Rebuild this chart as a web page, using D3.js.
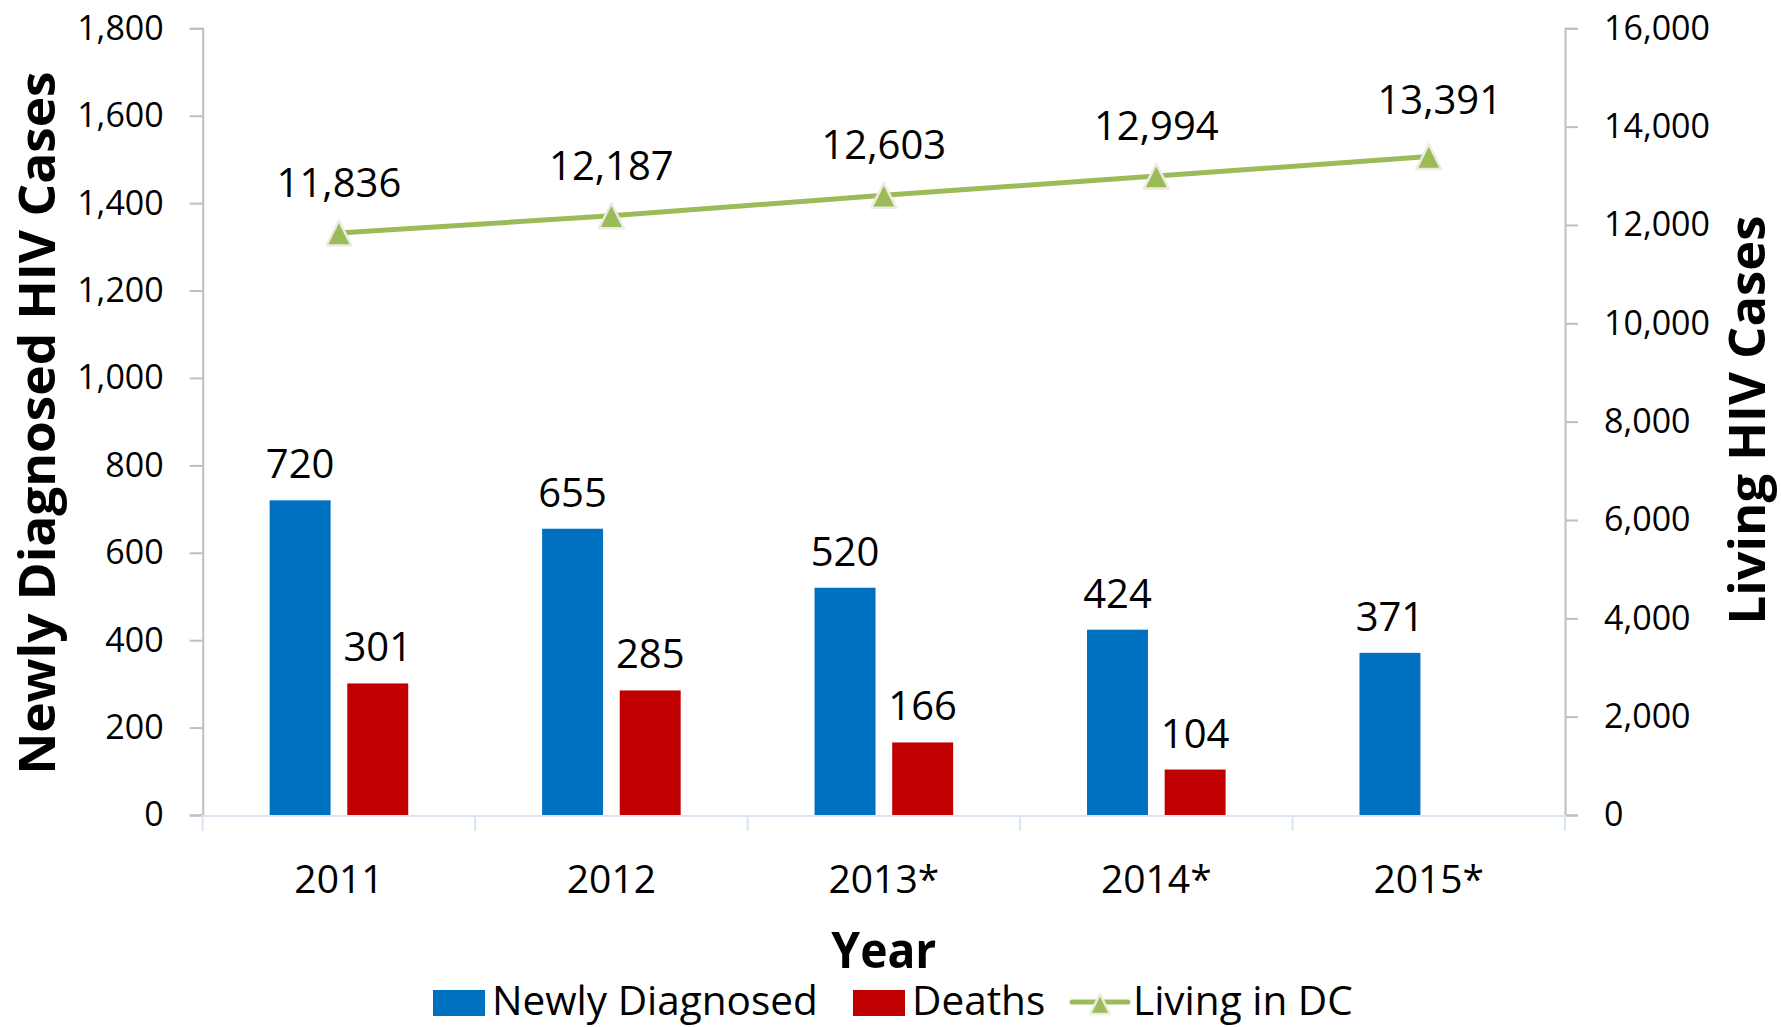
<!DOCTYPE html>
<html>
<head>
<meta charset="utf-8">
<script src="https://cdn.jsdelivr.net/npm/d3@7"></script>
<style>
  body { margin: 0; background: #fff; }
  svg { display: block; font-family: 'Open Sans', sans-serif; }
</style>
</head>
<body>
<div id="chart"></div>
<script>
// values
const years = ['2011', '2012', '2013*', '2014*', '2015*'];
const newlyDiagnosed = [720, 655, 520, 424, 371];
const deaths = [301, 285, 166, 104, null];
const livingInDC = [11836, 12187, 12603, 12994, 13391];
const leftTicks = [0, 200, 400, 600, 800, 1000, 1200, 1400, 1600, 1800];
const rightTicks = [0, 2000, 4000, 6000, 8000, 10000, 12000, 14000, 16000];

const width = 1781;
const height = 1027;
const margin = { top: 28.3, right: 216, bottom: 212, left: 202.7 };

const blue = '#0070c0';
const red = '#c00000';
const green = '#9bbb59';
const fmt = d3.format(',');

const svg = d3
  .select('#chart')
  .append('svg')
  .attr('width', width)
  .attr('height', height);

// scales
const x0 = d3
  .scaleBand()
  .domain(years)
  .range([margin.left, width - margin.right]);

const x1 = d3
  .scaleBand()
  .domain(['nd', 'deaths'])
  .range([0, x0.bandwidth()])
  .paddingInner(0.215)
  .paddingOuter(0.862);

const yLeft = d3
  .scaleLinear()
  .domain([0, 1800])
  .range([height - margin.bottom, margin.top]);

const yRight = d3
  .scaleLinear()
  .domain([0, 16000])
  .range([height - margin.bottom, margin.top]);

const baseY = yLeft(0);

// left axis
const leftAxis = svg
  .append('g')
  .attr('transform', `translate(${margin.left},0)`)
  .call(d3.axisLeft(yLeft).tickValues(leftTicks).tickFormat(fmt).tickSize(13).tickPadding(26));
leftAxis.select('.domain').attr('stroke', '#bfbfbf').attr('stroke-width', 2);
leftAxis.selectAll('.tick line').attr('stroke', '#bfbfbf').attr('stroke-width', 2);
leftAxis.selectAll('text').attr('font-size', 34).attr('fill', '#000').attr('font-family', 'Open Sans');

// right axis
const rightAxis = svg
  .append('g')
  .attr('transform', `translate(${width - margin.right},0)`)
  .call(d3.axisRight(yRight).tickValues(rightTicks).tickFormat(fmt).tickSize(13).tickPadding(26));
rightAxis.select('.domain').attr('stroke', '#bfbfbf').attr('stroke-width', 2);
rightAxis.selectAll('.tick line').attr('stroke', '#bfbfbf').attr('stroke-width', 2);
rightAxis.selectAll('text').attr('font-size', 34).attr('fill', '#000').attr('font-family', 'Open Sans');

// x axis: light blue baseline with category boundary ticks
const xAxis = svg.append('g');
xAxis
  .append('line')
  .attr('x1', margin.left)
  .attr('x2', width - margin.right)
  .attr('y1', baseY + 1)
  .attr('y2', baseY + 1)
  .attr('stroke', '#dbe5f1')
  .attr('stroke-width', 2);
const bounds = years.map((d) => x0(d)).concat([x0(years[years.length - 1]) + x0.bandwidth()]);
xAxis
  .selectAll('line.bound')
  .data(bounds)
  .join('line')
  .attr('class', 'bound')
  .attr('x1', (d) => d)
  .attr('x2', (d) => d)
  .attr('y1', baseY)
  .attr('y2', baseY + 16)
  .attr('stroke', '#dbe5f1')
  .attr('stroke-width', 2);
xAxis
  .selectAll('text')
  .data(years)
  .join('text')
  .attr('x', (d) => x0(d) + x0.bandwidth() / 2)
  .attr('y', 892.7)
  .attr('text-anchor', 'middle')
  .attr('font-size', 39)
  .text((d) => d);

// bars
const barData = [];
years.forEach((yr, i) => {
  barData.push({ yr, key: 'nd', value: newlyDiagnosed[i], color: blue });
  if (deaths[i] != null) barData.push({ yr, key: 'deaths', value: deaths[i], color: red });
});

svg
  .append('g')
  .selectAll('rect')
  .data(barData)
  .join('rect')
  .attr('x', (d) => x0(d.yr) + x1(d.key))
  .attr('y', (d) => yLeft(d.value))
  .attr('width', x1.bandwidth())
  .attr('height', (d) => baseY - yLeft(d.value))
  .attr('fill', (d) => d.color);

svg
  .append('g')
  .selectAll('text')
  .data(barData)
  .join('text')
  .attr('x', (d) => x0(d.yr) + x1(d.key) + x1.bandwidth() / 2)
  .attr('y', (d) => yLeft(d.value) - 22)
  .attr('text-anchor', 'middle')
  .attr('font-size', 40)
  .text((d) => fmt(d.value));

// living line
const cx = (i) => x0(years[i]) + x0.bandwidth() / 2;
const line = d3
  .line()
  .x((d, i) => cx(i))
  .y((d) => yRight(d));

svg
  .append('path')
  .datum(livingInDC)
  .attr('fill', 'none')
  .attr('stroke', green)
  .attr('stroke-width', 5)
  .attr('d', line);

const triangle = (size) => `M0,${-size / 2}L${size / 2},${size / 2}L${-size / 2},${size / 2}Z`;

svg
  .append('g')
  .selectAll('path')
  .data(livingInDC)
  .join('path')
  .attr('transform', (d, i) => `translate(${cx(i)},${yRight(d)})`)
  .attr('d', triangle(25))
  .attr('fill', green)
  .attr('stroke', '#eeece1')
  .attr('stroke-width', 2.5)
  .attr('stroke-linejoin', 'round');

// the last label sits a little to the right and higher in the original
svg
  .append('g')
  .selectAll('text')
  .data(livingInDC)
  .join('text')
  .attr('x', (d, i) => cx(i) + (i === livingInDC.length - 1 ? 11 : 0))
  .attr('y', (d, i) => yRight(d) - (i === livingInDC.length - 1 ? 43 : 36))
  .attr('text-anchor', 'middle')
  .attr('font-size', 40)
  .text((d) => fmt(d));

// axis titles
svg
  .append('text')
  .attr('transform', `translate(55,423) rotate(-90)`)
  .attr('text-anchor', 'middle')
  .attr('font-size', 51)
  .attr('font-weight', 700)
  .attr('textLength', 703)
  .attr('lengthAdjust', 'spacingAndGlyphs')
  .text('Newly Diagnosed HIV Cases');

svg
  .append('text')
  .attr('transform', `translate(1765,420) rotate(-90)`)
  .attr('text-anchor', 'middle')
  .attr('font-size', 51)
  .attr('font-weight', 700)
  .attr('textLength', 409)
  .attr('lengthAdjust', 'spacingAndGlyphs')
  .text('Living HIV Cases');

svg
  .append('text')
  .attr('x', (margin.left + width - margin.right) / 2)
  .attr('y', 968)
  .attr('text-anchor', 'middle')
  .attr('font-size', 51)
  .attr('font-weight', 700)
  .attr('textLength', 105)
  .attr('lengthAdjust', 'spacingAndGlyphs')
  .text('Year');

// legend
const legend = svg.append('g').attr('transform', 'translate(0,1003)');
const items = [
  { label: 'Newly Diagnosed', type: 'rect', color: blue, x: 433 },
  { label: 'Deaths', type: 'rect', color: red, x: 853 },
  { label: 'Living in DC', type: 'line', color: green, x: 1072 }
];

items.forEach((it) => {
  const row = legend.append('g').attr('transform', `translate(${it.x},0)`);
  let textX;
  if (it.type === 'rect') {
    row
      .append('rect')
      .attr('x', 0)
      .attr('y', -13)
      .attr('width', 52)
      .attr('height', 26)
      .attr('fill', it.color);
    textX = 59;
  } else {
    row
      .append('line')
      .attr('x1', 0)
      .attr('x2', 56)
      .attr('y1', -1)
      .attr('y2', -1)
      .attr('stroke', it.color)
      .attr('stroke-width', 5)
      .attr('stroke-linecap', 'round');
    row
      .append('path')
      .attr('transform', 'translate(28,1)')
      .attr('d', triangle(20))
      .attr('fill', it.color)
      .attr('stroke', '#eeece1')
      .attr('stroke-width', 2.5)
      .attr('stroke-linejoin', 'round');
    textX = 61;
  }
  row
    .append('text')
    .attr('x', textX)
    .attr('y', 12)
    .attr('font-size', 40.5)
    .text(it.label);
});
</script>
</body>
</html>
